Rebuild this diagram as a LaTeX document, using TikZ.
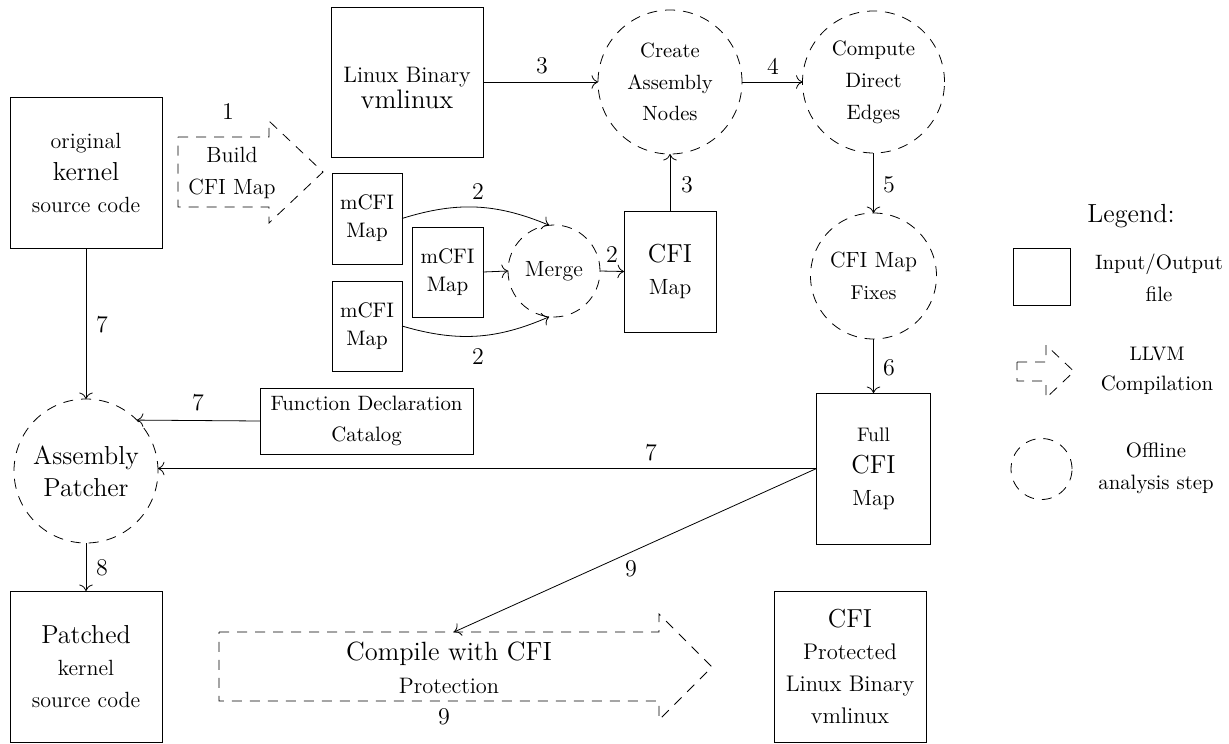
\documentclass[tikz,border=0pt]{standalone}
\usetikzlibrary{arrows.meta}
\newcommand\myS{\fontsize{10.4}{16}\selectfont}
\newcommand\myN{\fontsize{11}{16}\selectfont}
\newcommand\myL{\fontsize{13}{16}\selectfont}
\begin{document}
\begin{tikzpicture}[x=0.5pt,y=-0.5pt,
  >={To[scale=1.3]},
  every node/.style={inner sep=0pt, outer sep=0pt},
  dsh/.style={dash pattern=on 5pt off 4pt},
  file/.style={draw, rectangle, align=center, font=\myN},
  offl/.style={draw, circle, dsh, align=center, font=\myN},
  lbl/.style={font=\fontsize{12}{14}\selectfont},
]
\useasboundingbox (0,0) rectangle (1229,743);

% input / output files
\node[file, minimum width=76pt, minimum height=75.5pt] (orig) at (86,172.5) {original\\{\myL kernel}\\source code};
\node[file, minimum width=76pt, minimum height=75pt, font=\fontsize{11.2}{11.5}\selectfont] (linux) at (407,82) {\rule{0pt}{13.6pt}Linux Binary\\{\fontsize{13.4}{16}\selectfont vmlinux}};
\node[file, minimum width=35pt, minimum height=45.5pt, font=\fontsize{10.5}{14}\selectfont] (m1) at (367,218.5) {mCFI\\Map};
\node[file, minimum width=35.5pt, minimum height=45pt, font=\fontsize{10.5}{14}\selectfont] (m2) at (447.5,272) {mCFI\\Map};
\node[file, minimum width=35pt, minimum height=45pt, font=\fontsize{10.5}{14}\selectfont] (m3) at (367,326) {mCFI\\Map};
\node[file, minimum width=46pt, minimum height=60.5pt] (cfimap) at (670,271.5) {{\myL CFI}\\Map};
\node[file, minimum width=57pt, minimum height=75.5pt] (full) at (873.5,468.5) {{\fontsize{9.8}{12}\selectfont Full}\\{\myL CFI}\\Map};
\node[file, minimum width=76pt, minimum height=75.5pt, font=\fontsize{11.3}{16}\selectfont] (prot) at (850,666.5) {{\myL CFI}\\Protected\\Linux Binary\\vmlinux};
\node[file, minimum width=76pt, minimum height=75.5pt] (patched) at (86,666.5) {{\myL Patched}\\kernel\\source code};
\node[file, minimum width=106.5pt, minimum height=33pt, font=\fontsize{10.4}{15.5}\selectfont] (fdc) at (366.5,421) {Function Declaration\\Catalog};

% offline analysis steps
\node[offl, minimum size=46pt] (merge) at (554,271) {Merge};
\node[offl, minimum size=72pt, font=\fontsize{10.3}{15.75}\selectfont] (create) at (670,82) {Create\\Assembly\\Nodes};
\node[offl, minimum size=71pt, font=\myS] (compute) at (873.5,82) {Compute\\Direct\\Edges};
\node[offl, minimum size=63pt] (fixes) at (873.5,276) {CFI Map\\{\fontsize{10}{12}\selectfont Fixes}};
\node[offl, minimum size=72pt, font=\myL] (patcher) at (86,471) {Assembly\\Patcher};

% LLVM compilation arrows
\draw[dsh] (178,137) -- (269,137) -- (269,121) -- (323,172) -- (269,223) -- (269,207) -- (178,207) -- cycle;
\node[align=center, font=\myN] (build) at (232,173) {Build\\CFI Map};
\node[lbl] (l1) at (228,112) {1};

\draw[dsh] (219,632) -- (659,632) -- (659,614) -- (712,667) -- (659,720) -- (659,701) -- (219,701) -- cycle;
\coordinate (ctop) at (454,632);
\node[align=center, font=\fontsize{11.2}{16.5}\selectfont] (compile) at (449,668) {{\fontsize{13.2}{16}\selectfont Compile with CFI}\\Protection};
\node[lbl] (l9b) at (444,717) {9};

% connectors
\draw[->] (m1.east) to[bend left=20] (merge.96) node[lbl] at (478,192) {2};
\draw[->] (m3.east) to[bend right=20] (merge.264) node[lbl] at (478,357) {2};
\draw[->] (m2.east) -- (merge.west);
\draw[->] (merge.east) -- (cfimap.west) node[lbl] at (612,255) {2};
\draw[->] (linux.east) -- (create.west) node[lbl] at (542,66) {3};
\draw[->] (cfimap.north) -- (create.south) node[lbl] at (687,185) {3};
\draw[->] (create.east) -- (compute.west) node[lbl] at (773,66) {4};
\draw[->] (compute.south) -- (fixes.north) node[lbl] at (889,185) {5};
\draw[->] (fixes.south) -- (full.north) node[lbl] at (889,368) {6};
\draw[->] (orig.south) -- (patcher.north) node[lbl] at (102,325) {7};
\draw[->] (fdc.west) -- (patcher.45) node[lbl] at (198,403) {7};
\draw[->] (full.west) -- (patcher.east |- full.west) node[lbl] at (651,453) {7};
\draw[->] (patcher.south) -- (patched.north) node[lbl] at (102,568) {8};
\draw[->] (full.west) -- (ctop) node[lbl] at (631,569) {9};

% legend
\node[font=\fontsize{13.1}{16}\selectfont, anchor=base] (legend) at (1131,222) {Legend:};
\node[draw, minimum width=28.5pt, minimum height=28.5pt] (legfile) at (1041.5,276.5) {};
\node[align=center, font=\myS] (legfiletxt) at (1159,277.5) {Input/Output\\file};
\draw[dsh] (1017,362) -- (1046,362) -- (1046,345) -- (1074,371.5) -- (1046,398) -- (1046,381) -- (1017,381) -- cycle;
\node[align=center, font=\fontsize{10.4}{15}\selectfont] (llvmtxt) at (1157,371) {{\fontsize{9.8}{12}\selectfont LLVM}\\Compilation};
\node[offl, minimum size=30.5pt] (legoff) at (1041.5,469) {};
\node[align=center, font=\myS] (offtxt) at (1156,468) {Offline\\analysis step};
\end{tikzpicture}
\end{document}
